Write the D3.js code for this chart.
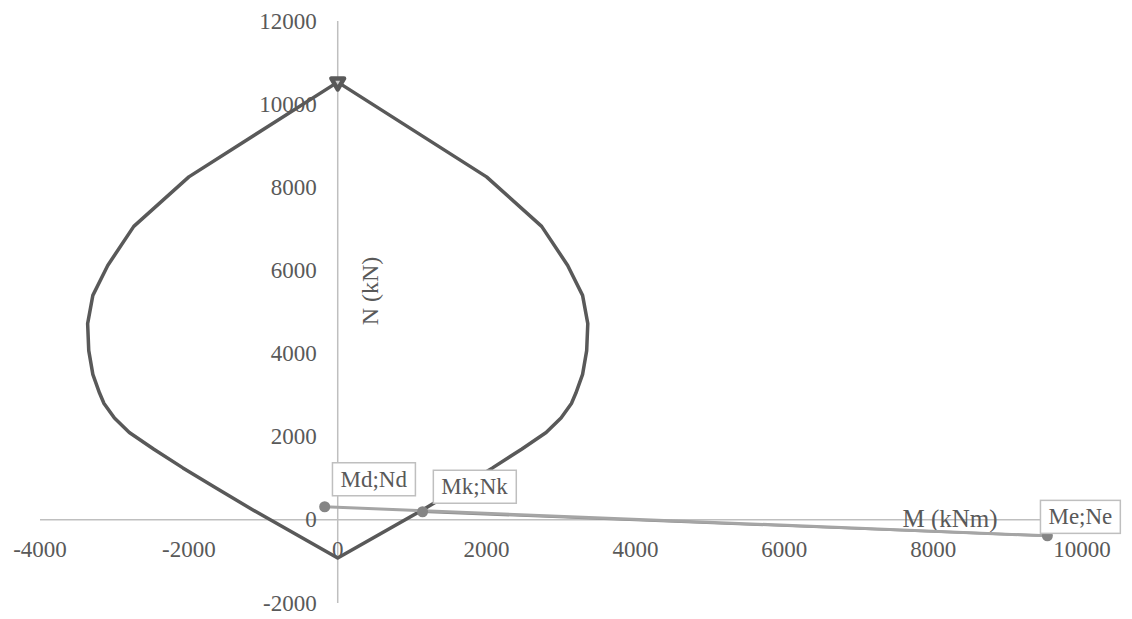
<!DOCTYPE html>
<html>
<head>
<meta charset="utf-8">
<script src="https://cdn.jsdelivr.net/npm/d3@7"></script>
<style>
  html, body { margin: 0; padding: 0; background: #ffffff; }
  svg { display: block; }
</style>
</head>
<body>
<svg id="chart" width="1132" height="619"></svg>
<script>
// Interaction diagram (M, N) pairs
const curveM = [0, 2000, 2740, 3090, 3290, 3360, 3345, 3290, 3200, 3140, 3000, 2800, 2470, 2080, 1640, 1150, 0,
                -1150, -1640, -2080, -2470, -2800, -3000, -3140, -3200, -3290, -3345, -3360, -3290, -3090, -2740, -2000, 0];
const curveN = [10530, 8250, 7060, 6120, 5400, 4720, 4070, 3500, 3050, 2800, 2450, 2100, 1700, 1250, 770, 250, -920,
                250, 770, 1250, 1700, 2100, 2450, 2800, 3050, 3500, 4070, 4720, 5400, 6120, 7060, 8250, 10530];

// Load points
const loadLabels = ["Md;Nd", "Mk;Nk", "Me;Ne"];
const loadM = [-175, 1140, 9535];
const loadN = [315, 195, -385];

// Tick values
const xTicks = [-4000, -2000, 0, 2000, 4000, 6000, 8000, 10000];
const yTicks = [-2000, 0, 2000, 4000, 6000, 8000, 10000, 12000];
const xTitle = "M (kNm)";
const yTitle = "N (kN)";

const svg = d3.select("#chart");
const FONT = "'Liberation Serif', 'Times New Roman', serif";
const TXT = "#595959";
const AX = "#bfbfbf";

const x = d3.scaleLinear().domain([-4000, 10000]).range([40, 1082]);
const y = d3.scaleLinear().domain([-2000, 12000]).range([603, 21]);

// Axis lines
svg.append("line").attr("x1", x(-4000)).attr("x2", x(10000)).attr("y1", y(0)).attr("y2", y(0))
  .attr("stroke", AX).attr("stroke-width", 1.5);
svg.append("line").attr("x1", x(0)).attr("x2", x(0)).attr("y1", y(-2000)).attr("y2", y(12000))
  .attr("stroke", AX).attr("stroke-width", 1.5);

// Tick labels
svg.append("g").selectAll("text").data(xTicks).join("text")
  .attr("x", d => x(d)).attr("y", y(0) + 30)
  .attr("text-anchor", "middle").attr("dominant-baseline", "central")
  .attr("font-family", FONT).attr("font-size", 23).attr("fill", TXT)
  .text(d => d);
svg.append("g").selectAll("text").data(yTicks).join("text")
  .attr("x", x(0) - 21).attr("y", d => y(d))
  .attr("text-anchor", "end").attr("dominant-baseline", "central")
  .attr("font-family", FONT).attr("font-size", 23).attr("fill", TXT)
  .text(d => d);

// Axis titles
svg.append("text").attr("x", 950).attr("y", y(0) - 1)
  .attr("text-anchor", "middle").attr("dominant-baseline", "central")
  .attr("font-family", FONT).attr("font-size", 25).attr("fill", TXT).text(xTitle);
svg.append("text").attr("transform", `translate(${x(0) + 32},${291}) rotate(-90)`)
  .attr("text-anchor", "middle").attr("dominant-baseline", "central")
  .attr("font-family", FONT).attr("font-size", 24).attr("fill", TXT).text(yTitle);

// Curve
const curvePts = curveM.map((m, i) => [m, curveN[i]]);
const line = d3.line().x(d => x(d[0])).y(d => y(d[1]));
svg.append("path").attr("d", line(curvePts))
  .attr("fill", "none").attr("stroke", "#595959").attr("stroke-width", 3.5)
  .attr("stroke-linejoin", "round");

// Triangle marker at top
svg.append("path")
  .attr("d", d3.symbol().type(d3.symbolTriangle).size(70)())
  .attr("transform", `translate(${x(curveM[0])},${y(curveN[0])}) rotate(180)`)
  .attr("fill", "#d0d0d0").attr("stroke", "#595959").attr("stroke-width", 4.5)
  .attr("stroke-linejoin", "round");

// Load lines
const lp = loadM.map((m, i) => [m, loadN[i]]);
svg.append("path").attr("d", line([lp[1], lp[2]]))
  .attr("fill", "none").attr("stroke", "#8c8c8c").attr("stroke-width", 2.5);
svg.append("path").attr("d", line([lp[0], lp[2]]))
  .attr("fill", "none").attr("stroke", "#a5a5a5").attr("stroke-width", 3);

svg.append("g").selectAll("circle").data(lp).join("circle")
  .attr("cx", d => x(d[0])).attr("cy", d => y(d[1])).attr("r", 5.5)
  .attr("fill", "#858585");

// Data labels
const labelDx = [49, 52, 33];
const labelDy = [-27.5, -25, -19];
const lg = svg.append("g");
lp.forEach((d, i) => {
  const cx = x(d[0]) + labelDx[i], cy = y(d[1]) + labelDy[i];
  const t = lg.append("text").attr("x", cx).attr("y", cy)
    .attr("text-anchor", "middle").attr("dominant-baseline", "central")
    .attr("font-family", FONT).attr("font-size", 23).attr("fill", TXT).text(loadLabels[i]);
  const bb = t.node().getBBox();
  lg.insert("rect", "text").attr("x", bb.x - 8).attr("y", cy - 16.5)
    .attr("width", bb.width + 16).attr("height", 33)
    .attr("fill", "#ffffff").attr("stroke", AX).attr("stroke-width", 1.5);
});
</script>
</body>
</html>
